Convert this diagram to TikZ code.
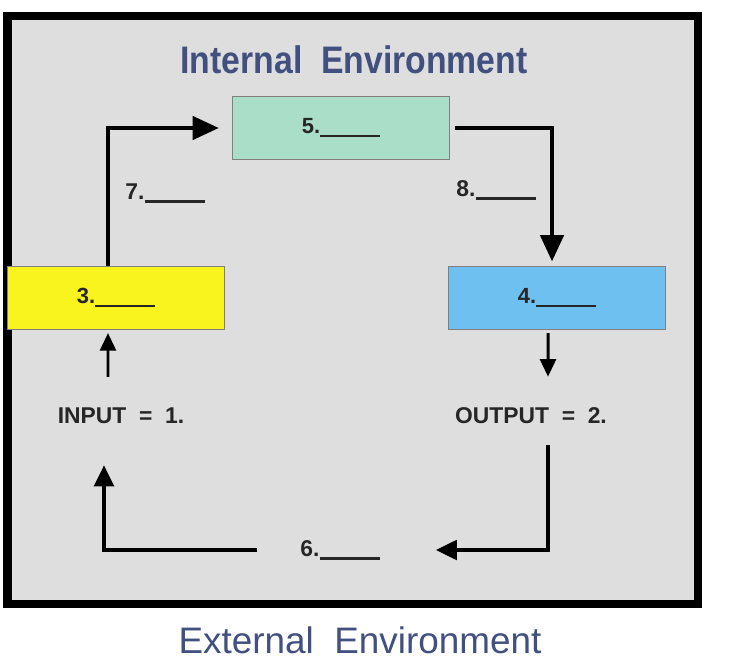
\documentclass[tikz,border=0pt]{standalone}
\usepackage{fontspec}
\setmainfont{Liberation Sans}
\usetikzlibrary{arrows.meta}
\definecolor{panel}{RGB}{222, 222, 222}
\definecolor{envblue}{RGB}{66, 80, 128}
\definecolor{midgreen}{RGB}{170, 222, 200}
\definecolor{midyellow}{RGB}{250, 244, 30}
\definecolor{midblue}{RGB}{110, 192, 240}
\newcommand{\blank}{\rule[-2pt]{1.2cm}{1.3pt}}

\begin{document}
\begin{tikzpicture}[x=0.02cm, y=-0.02cm,
  stagebox/.style={draw=black!50, line width=0.6pt, minimum width=4.34cm,
    minimum height=1.26cm, font=\bfseries\fontsize{12.5}{14}\selectfont, text=black!85},
  lbl/.style={font=\bfseries\fontsize{13}{15}\selectfont, text=black!85},
  flow/.style={line width=2.8pt, -{Triangle[length=15pt, width=13pt]}},
  loop flow/.style={line width=2.3pt, -{Triangle[length=12pt, width=11pt]}},
  thin flow/.style={line width=1.7pt, -{Triangle[length=10pt, width=9pt]}}]

  \useasboundingbox (0, 0) rectangle (742, 668);

  % frame of the internal environment
  \draw[line width=5pt, fill=panel] (7.5, 16) rectangle (698, 604);

  \node[font=\bfseries\fontsize{19.5}{22}\selectfont, text=envblue] (internal)
    at (354, 60) {\scalebox{0.985}[1.12]{Internal\ \ Environment}};
  \node[font=\fontsize{21}{24}\selectfont, text=envblue] (external)
    at (360, 640) {External\ \ Environment};

  % stages
  \node[stagebox, fill=midgreen] (stage5) at (341, 128) {5.\blank};
  \node[stagebox, fill=midyellow] (stage3) at (116, 298) {3.\blank};
  \node[stagebox, fill=midblue] (stage4) at (557, 298) {4.\blank};

  \node[lbl] (input) at (121, 416) {INPUT\ \ =\ \ 1.};
  \node[lbl] (output) at (531, 416) {OUTPUT\ \ =\ \ 2.};
  \node[lbl] (lbl7) at (165, 193) {7.\blank};
  \node[lbl] (lbl8) at (496, 190) {8.\blank};
  \node[lbl] (lbl6) at (340, 550) {6.\blank};

  % connectors
  \draw[flow, shorten >=0.26cm] ([xshift=-0.16cm]stage3.north) |- (stage5.west);
  \draw[flow, shorten <=0.1cm, shorten >=0.09cm] (stage5.east)
    -| ([xshift=-0.1cm]stage4.north);

  \draw[thin flow] ([xshift=-0.26cm, yshift=0.5cm]input.north)
    -- ([xshift=-0.16cm, yshift=-0.06cm]stage3.south);
  \draw[thin flow] ([xshift=-0.18cm, yshift=-0.06cm]stage4.south)
    -- ([xshift=0.34cm, yshift=0.5cm]output.north);

  \draw[loop flow, shorten >=1cm] ([xshift=0.34cm, yshift=-0.3cm]output.south)
    |- (lbl6.east);
  \draw[loop flow, shorten <=0.74cm, shorten >=0.7cm] (lbl6.west)
    -| ([xshift=-0.34cm]input.south);

\end{tikzpicture}
\end{document}
